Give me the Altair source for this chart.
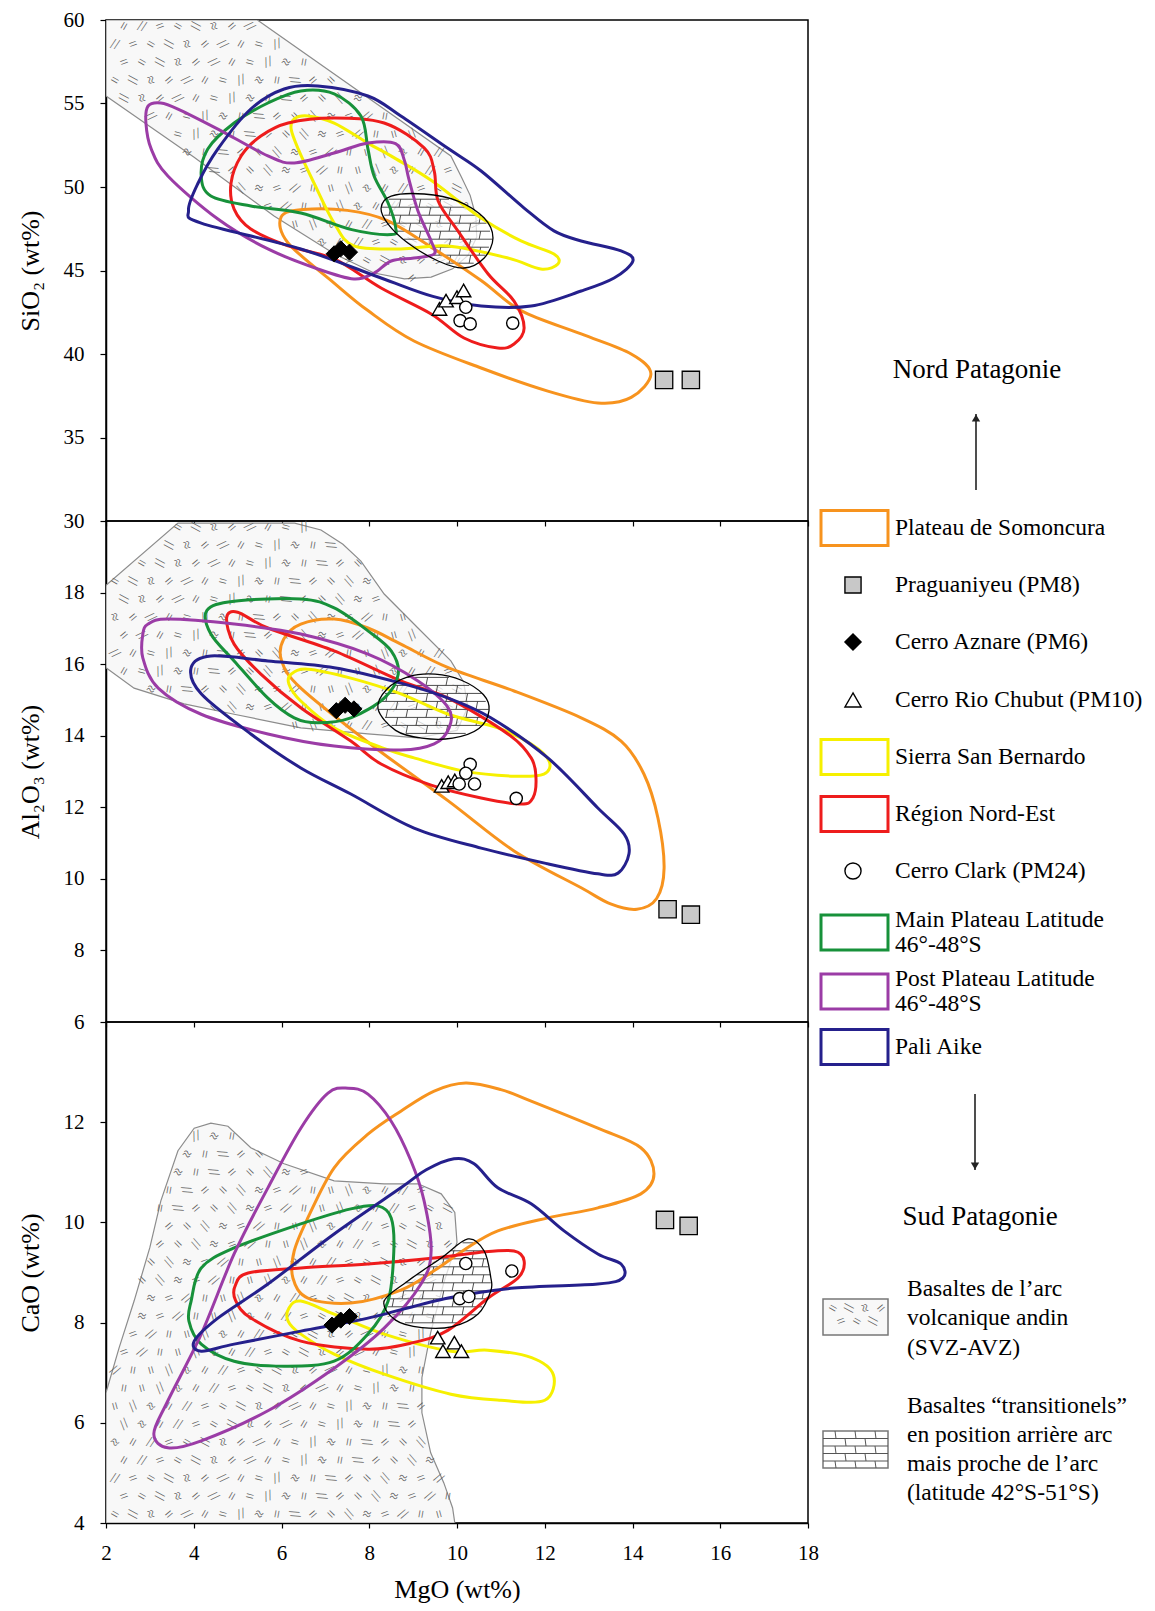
import altair as alt
import pandas as pd
import numpy as np

FONT = "Liberation Serif"

# ---------------- axis ticks ----------------
MGO_TICKS = [2, 4, 6, 8, 10, 12, 14, 16, 18]
SIO2_TICKS = [30, 35, 40, 45, 50, 55, 60]
AL2O3_TICKS = [6, 8, 10, 12, 14, 16, 18]
CAO_TICKS = [4, 6, 8, 10, 12]

GROUPS = ["Plateau de Somoncura", "Sierra San Bernardo", "Région Nord-Est",
          "Main Plateau", "Post Plateau", "Pali Aike"]
GROUP_COLORS = ["#f7931e", "#f6f000", "#ee1c1c", "#17913a", "#9b3ca6", "#25208c"]

# ---------------- SiO2 vs MgO ----------------
SIO2_SVZ = [(2, 60), (2, 55.45), (4.0, 51.8), (5.83, 48.26), (7.2, 46.0), (8.11, 44.85),
            (8.8, 44.5), (9.41, 44.6), (9.9, 45.1), (10.25, 45.9), (10.45, 47.0),
            (10.43, 48.26), (10.3, 49.5), (10.1, 50.6), (9.86, 51.86), (5.45, 60)]
SIO2_TRANS = [(8.27, 48.74), (8.5, 49.46), (9.25, 49.58), (10.02, 49.16), (10.62, 48.14),
              (10.82, 46.95), (10.62, 45.75), (10.16, 45.15), (9.57, 45.57), (8.88, 46.65),
              (8.43, 47.78)]
SIO2_SOMONCURA = [(5.99, 48.2), (6.5, 48.65), (7.5, 48.6), (8.4, 48.0), (9.41, 46.4),
                  (10.55, 44.4), (11.46, 42.6), (12.83, 41.2), (13.97, 40.0), (14.42, 38.8),
                  (13.97, 37.4), (13.21, 37.07), (12.07, 37.78), (10.55, 39.16), (9.02, 40.78),
                  (7.97, 42.6), (7.2, 44.25), (6.15, 46.65)]
SIO2_SIERRA = [(6.29, 54.07), (6.6, 54.25), (7.2, 53.83), (7.97, 52.63), (8.6, 51.7),
               (9.41, 50.4), (10.55, 48.14), (11.46, 46.77), (12.21, 45.99), (12.3, 45.39),
               (11.91, 45.09), (11.16, 45.75), (9.79, 46.47), (8.72, 46.29), (7.65, 46.47),
               (7.2, 47.84), (6.74, 50.24), (6.38, 52.28), (6.22, 53.47)]
SIO2_NORDEST = [(5.53, 53.05), (6.15, 53.83), (7.2, 54.13), (8.34, 53.83), (9.25, 52.34),
                (9.48, 50.96), (9.57, 49.16), (10.02, 47.37), (10.71, 44.79), (11.3, 43.17),
                (11.53, 41.56), (11.3, 40.6), (10.93, 40.36), (10.16, 40.96), (9.41, 42.4),
                (8.27, 43.95), (7.2, 45.69), (6.15, 46.47), (5.3, 47.49), (4.92, 48.68),
                (4.85, 50.24), (5.08, 51.86)]
SIO2_MAIN = [(5.69, 55.03), (6.44, 55.75), (7.2, 55.57), (7.81, 54.25), (7.97, 52.28),
             (8.11, 50.66), (8.43, 49.04), (8.6, 47.6), (8.5, 47.15), (7.6, 47.45),
             (6.44, 48.44), (5.3, 48.86), (4.39, 49.46), (4.17, 50.66), (4.32, 52.28),
             (4.92, 53.83)]
SIO2_POST = [(2.96, 54.85), (3.25, 55.03), (3.64, 54.67), (4.55, 53.47), (5.69, 51.86),
             (6.29, 51.44), (7.2, 52.04), (7.97, 52.63), (8.6, 52.6), (8.8, 51.6),
             (8.9, 50.5), (9.11, 48.56), (9.41, 46.77), (9.48, 45.99), (9.02, 45.75),
             (8.5, 45.57), (8.11, 44.85), (7.65, 44.49), (6.83, 45.09), (5.69, 46.29),
             (4.55, 48.08), (3.41, 50.66), (3.03, 52.28), (2.91, 53.83)]
SIO2_PALI = [(6.06, 55.87), (6.83, 56.05), (7.97, 55.45), (8.72, 54.25), (9.8, 52.3),
             (10.55, 50.96), (11.53, 48.74), (12.21, 47.37), (12.83, 46.77), (13.74, 46.17),
             (14.01, 45.57), (13.58, 44.55), (12.83, 43.77), (11.69, 42.87), (10.55, 42.87),
             (9.45, 43.45), (8.27, 44.55), (6.44, 46.29), (4.17, 47.84), (3.88, 48.6),
             (4.1, 50.24), (4.55, 52.28), (5.3, 54.67)]
SIO2_PM8 = [(14.72, 38.45), (15.33, 38.45)]
SIO2_PM6 = [(7.2, 46.0), (7.35, 46.3), (7.55, 46.1)]
SIO2_PM10 = [(9.6, 42.7), (9.75, 43.2), (10.0, 43.4), (10.15, 43.8)]
SIO2_PM24 = [(10.2, 42.8), (10.07, 42.0), (10.3, 41.8), (11.27, 41.85)]

# ---------------- Al2O3 vs MgO ----------------
AL_SVZ = [(2, 18.2), (3.64, 19.94), (6.3, 19.94), (6.9, 19.75), (7.4, 19.35), (7.81, 18.88),
          (8.34, 17.96), (9.11, 17.01), (9.86, 16.09), (10.15, 15.5), (10.25, 14.8),
          (10.0, 14.15), (9.11, 13.94), (7.97, 14.05), (6.44, 14.22), (4.92, 14.6),
          (3.78, 14.89), (2.64, 15.33), (2, 15.9)]
AL_TRANS = [(8.2, 14.75), (8.4, 15.3), (8.9, 15.65), (9.5, 15.72), (10.1, 15.55),
            (10.6, 15.15), (10.73, 14.7), (10.5, 14.2), (9.9, 13.93), (9.2, 13.93),
            (8.6, 14.15)]
AL_SOMONCURA = [(6.0, 16.1), (6.05, 16.7), (6.44, 17.12), (7.2, 17.26), (7.97, 17.01),
                (8.72, 16.56), (9.8, 15.9), (11.3, 15.25), (12.83, 14.5), (13.74, 13.85),
                (14.26, 12.93), (14.58, 11.7), (14.72, 10.3), (14.55, 9.45), (14.1, 9.15),
                (13.5, 9.3), (12.83, 9.75), (11.3, 10.78), (9.8, 12.18), (8.1, 13.7),
                (6.44, 15.33)]
AL_SIERRA = [(6.17, 15.44), (6.22, 15.72), (6.6, 15.86), (7.58, 15.61), (8.72, 15.17),
             (9.8, 14.6), (10.93, 14.22), (11.69, 13.77), (12.1, 13.29), (11.98, 12.93),
             (11.3, 12.87), (10.16, 13.01), (9.02, 13.38), (8.3, 13.66), (7.2, 14.22),
             (6.44, 14.97)]
AL_NORDEST = [(4.75, 17.3), (5.0, 17.45), (5.69, 17.01), (7.2, 16.37), (8.72, 15.53),
              (9.8, 15.05), (11.16, 14.05), (11.69, 13.38), (11.8, 12.82), (11.73, 12.26),
              (11.46, 12.09), (10.55, 12.26), (9.41, 12.62), (8.27, 13.21), (7.58, 13.85),
              (6.44, 14.78), (5.53, 15.72), (4.92, 16.56)]
AL_MAIN = [(4.3, 17.5), (4.92, 17.76), (6.44, 17.82), (7.2, 17.57), (7.97, 16.93),
           (8.5, 16.37), (8.66, 15.72), (8.34, 15.05), (7.58, 14.5), (6.83, 14.36),
           (6.29, 14.5), (5.69, 15.05), (4.92, 16.09), (4.39, 16.84)]
AL_POST = [(2.96, 17.12), (3.41, 17.26), (4.92, 17.12), (6.44, 16.84), (7.97, 16.28),
           (9.11, 15.53), (9.8, 14.78), (9.82, 14.22), (9.48, 13.77), (8.72, 13.6),
           (7.2, 13.71), (5.69, 14.05), (4.17, 14.6), (3.19, 15.33), (2.84, 16.17),
           (2.84, 16.84)]
AL_PALI = [(3.94, 15.9), (4.39, 16.23), (5.69, 16.09), (7.2, 15.9), (8.72, 15.47),
           (9.8, 15.05), (10.77, 14.5), (12.07, 13.38), (13.21, 11.98), (13.81, 11.25),
           (13.92, 10.7), (13.67, 10.16), (13.21, 10.14), (12.07, 10.42), (10.55, 10.86),
           (9.02, 11.42), (7.58, 12.37), (6.44, 13.1), (5.3, 14.05), (4.17, 15.17)]
AL_PM8 = [(14.8, 9.15), (15.33, 9.0)]
AL_PM6 = [(7.25, 14.7), (7.45, 14.85), (7.65, 14.75)]
AL_PM10 = [(9.65, 12.6), (9.8, 12.7), (9.95, 12.75)]
AL_PM24 = [(10.3, 13.2), (10.2, 12.95), (10.05, 12.65), (10.4, 12.65), (11.35, 12.25)]

# ---------------- CaO vs MgO ----------------
CAO_SVZ = [(2, 4.0), (2, 6.6), (2.3, 7.5), (2.64, 8.43), (3.0, 9.5), (3.25, 10.43),
           (3.64, 11.43), (4.01, 11.88), (4.39, 11.98), (4.78, 11.92), (5.3, 11.49),
           (6.06, 11.17), (7.2, 10.83), (8.34, 10.77), (9.11, 10.77), (9.64, 10.57),
           (9.95, 10.2), (10.0, 9.6), (9.7, 8.8), (9.4, 7.8), (9.2, 6.9), (9.2, 6.2),
           (9.4, 5.4), (9.7, 4.8), (9.9, 4.3), (9.95, 4.0)]
CAO_TRANS = [(10.25, 9.67), (10.62, 9.43), (10.77, 8.9), (10.77, 8.63), (10.48, 8.17),
             (9.9, 7.92), (9.2, 7.9), (8.6, 8.05), (8.34, 8.43), (8.88, 8.83), (9.64, 9.29)]
CAO_SOMONCURA = [(6.26, 8.89), (6.29, 9.43), (6.6, 10.09), (7.2, 11.09), (7.97, 11.76),
                 (8.72, 12.22), (9.48, 12.62), (10.2, 12.78), (11.0, 12.65), (11.69, 12.42),
                 (13.21, 11.88), (14.19, 11.49), (14.49, 10.97), (14.19, 10.57), (13.21, 10.29),
                 (12.07, 10.09), (10.93, 9.83), (10.16, 9.45), (9.5, 9.05), (8.72, 8.65),
                 (7.58, 8.39), (6.6, 8.49)]
CAO_SIERRA = [(6.17, 8.29), (6.44, 8.43), (7.2, 8.17), (8.34, 7.77), (9.86, 7.43),
              (10.7, 7.45), (11.7, 7.3), (12.2, 6.95), (12.0, 6.45), (11.0, 6.45),
              (9.86, 6.57), (8.34, 6.97), (7.2, 7.37), (6.44, 7.77), (6.15, 8.03)]
CAO_NORDEST = [(4.95, 8.75), (5.24, 8.99), (6.44, 9.09), (7.97, 9.17), (9.48, 9.29),
               (10.5, 9.4), (11.3, 9.43), (11.53, 9.23), (11.39, 8.89), (10.71, 8.49),
               (9.8, 7.85), (9.0, 7.6), (7.97, 7.47), (6.44, 7.63), (5.3, 8.09), (4.95, 8.45)]
CAO_MAIN = [(3.94, 8.43), (4.17, 9.09), (4.92, 9.49), (6.44, 9.97), (7.58, 10.27),
            (8.2, 10.33), (8.5, 10.09), (8.56, 9.43), (8.43, 8.43), (7.97, 7.77),
            (7.2, 7.23), (6.06, 7.13), (4.92, 7.23), (4.17, 7.57), (3.89, 8.03)]
CAO_POST = [(7.06, 12.58), (7.52, 12.68), (7.97, 12.56), (8.5, 12.02), (8.95, 11.23),
            (9.25, 10.43), (9.41, 9.43), (9.18, 8.77), (8.34, 7.89), (7.2, 7.09),
            (5.69, 6.24), (4.17, 5.64), (3.41, 5.5), (3.09, 5.78), (3.41, 6.44),
            (4.17, 7.77), (4.92, 9.37), (5.69, 10.69), (6.44, 11.88)]
CAO_PALI = [(4.01, 7.63), (4.55, 8.09), (5.69, 8.77), (7.2, 9.77), (8.72, 10.69),
            (9.3, 11.05), (9.93, 11.27), (10.39, 11.17), (10.93, 10.69), (11.69, 10.37),
            (12.44, 9.83), (13.21, 9.37), (13.74, 9.17), (13.78, 8.89), (13.21, 8.77),
            (11.3, 8.69), (9.8, 8.49), (7.97, 8.09), (6.44, 7.83), (4.92, 7.57), (4.17, 7.43)]
CAO_PM8 = [(14.74, 10.05), (15.28, 9.93)]
CAO_PM6 = [(7.15, 7.95), (7.35, 8.05), (7.55, 8.12)]
CAO_PM10 = [(9.56, 7.7), (9.68, 7.43), (9.94, 7.6), (10.1, 7.43)]
CAO_PM24 = [(10.2, 9.18), (11.25, 9.03), (10.06, 8.48), (10.27, 8.52)]

# ---------------- legend text ----------------
LEGEND_LABELS = ["Plateau de Somoncura", "Praguaniyeu (PM8)", "Cerro Aznare (PM6)",
                 "Cerro Rio Chubut (PM10)", "Sierra San Bernardo", "Région Nord-Est",
                 "Cerro Clark (PM24)", "Main Plateau Latitude\n46°-48°S",
                 "Post Plateau Latitude\n46°-48°S", "Pali Aike"]
LEGEND_KIND = ["box", "square", "diamond", "triangle-up", "box", "box", "circle",
               "box", "box", "box"]
LEGEND_COLOR = ["#f7931e", "#c8c8c8", "black", "white", "#f6f000", "#ee1c1c", "white",
                "#17913a", "#9b3ca6", "#25208c"]
NORD = "Nord Patagonie"
SUD = "Sud Patagonie"
SVZ_TEXT = "Basaltes de l’arc\nvolcanique andin\n(SVZ-AVZ)"
TRANS_TEXT = "Basaltes “transitionels”\nen position arrière arc\nmais proche de l’arc\n(latitude 42°S-51°S)"
GLYPH_CHARS = ["=", "//", "≈", "=", "//", "="]

# ---------------- layout ----------------
PW, PH = 702, 501
LW = 320
LEG_ROW_Y = [508, 565, 622, 680, 737, 794, 851, 912.5, 971.5, 1027]

ANGLES = [30, 120, 75, 160, 45, 100, 15, 140]


def inside(px, py, poly):
    c = False
    n = len(poly)
    j = n - 1
    for i in range(n):
        xi, yi = poly[i]
        xj, yj = poly[j]
        if (yi > py) != (yj > py):
            xc = (xj - xi) * (py - yi) / (yj - yi) + xi
            if px < xc:
                c = not c
        j = i
    return c


def glyphs(poly, ymin, ymax, step=18.0):
    sx = step * 16.0 / PW
    sy = step * (ymax - ymin) / PH
    rows = []
    r = 0
    yv = ymin + sy / 2
    while yv < ymax:
        off = (r % 2) * sx / 2
        c = 0
        xv = 2 + sx / 2 + off
        while xv < 18:
            if inside(xv, yv, poly):
                rows.append({"x": xv, "y": yv, "a": ANGLES[(r * 3 + c * 5) % 8],
                             "t": GLYPH_CHARS[(r * 5 + c * 7) % len(GLYPH_CHARS)]})
            xv += sx
            c += 1
        yv += sy
        r += 1
    return pd.DataFrame(rows)


def hatch(poly, ymin, ymax, ystep_px=8.0, xstep_px=20.0):
    sy = ystep_px * (ymax - ymin) / PH
    sx = xstep_px * 16.0 / PW
    ys = [p[1] for p in poly]
    xs = [p[0] for p in poly]
    levels = np.arange(min(ys) + sy * 0.6, max(ys), sy)
    segs = []
    n = len(poly)
    for lv in levels:
        cuts = []
        for i in range(n):
            x1, y1 = poly[i]
            x2, y2 = poly[(i + 1) % n]
            if (y1 > lv) != (y2 > lv):
                cuts.append(x1 + (lv - y1) * (x2 - x1) / (y2 - y1))
        cuts.sort()
        for k in range(0, len(cuts) - 1, 2):
            segs.append({"x": cuts[k], "x2": cuts[k + 1], "y": lv, "y2": lv})
    for k in range(len(levels) - 1):
        ya, yb = levels[k], levels[k + 1]
        off = (k % 2) * sx / 2
        xv = min(xs) + sx * 0.4 + off
        while xv < max(xs):
            if inside(xv, ya + 1e-6, poly) and inside(xv, yb - 1e-6, poly):
                segs.append({"x": xv, "x2": xv + sx * 0.08, "y": ya, "y2": yb})
            xv += sx
    return pd.DataFrame(segs)


def poly_df(pts, group=None):
    d = pd.DataFrame(pts, columns=["x", "y"])
    d["i"] = range(len(d))
    if group is not None:
        d["g"] = group
    return d


def panel(ymin, ymax, yticks, ytitle, svz, trans, shapes, pm8, pm6, pm10, pm24, bottom):
    if bottom:
        xaxis = alt.Axis(values=MGO_TICKS, title="MgO (wt%)", labelFontSize=21,
                         titleFontSize=26, titlePadding=13, tickSize=5, labelPadding=14,
                         labelFlush=False, grid=False, labelAngle=0)
    else:
        xaxis = alt.Axis(values=MGO_TICKS, labels=False, ticks=True, tickSize=5,
                         domain=False, grid=False, title=None)
    X = alt.X("x:Q", scale=alt.Scale(domain=[2, 18], nice=False, zero=False), axis=xaxis)
    Y = alt.Y("y:Q", scale=alt.Scale(domain=[ymin, ymax], nice=False, zero=False),
              axis=alt.Axis(values=yticks, title=ytitle, tickSize=6, labelPadding=16,
                            labelFontSize=21, titleFontSize=26, titlePadding=20, grid=False))

    svz_layer = alt.Chart(poly_df(svz)).mark_line(
        interpolate="linear-closed", fill="#f8f8f8", stroke="#8c8c8c", strokeWidth=1.2,
        clip=True).encode(x=X, y=Y, order="i:Q")
    glyph_layer = alt.Chart(glyphs(svz, ymin, ymax)).mark_text(
        fontSize=15, color="#5e5e5e", font=FONT).encode(
        x=X, y=Y, text="t:N", angle=alt.Angle("a:Q", scale=None))
    trans_fill = alt.Chart(poly_df(trans)).mark_line(
        interpolate="cardinal-closed", fill="#ffffff", fillOpacity=0.7,
        stroke="transparent").encode(x=X, y=Y, order="i:Q")
    hatch_layer = alt.Chart(hatch(trans, ymin, ymax)).mark_rule(
        color="#3a3a3a", strokeWidth=0.9).encode(x=X, y=Y, x2="x2:Q", y2="y2:Q")
    frames = [poly_df(pts, g) for g, pts in zip(GROUPS, shapes)]
    lines_layer = alt.Chart(pd.concat(frames, ignore_index=True)).mark_line(
        interpolate="cardinal-closed", strokeWidth=3).encode(
        x=X, y=Y, order="i:Q",
        color=alt.Color("g:N", scale=alt.Scale(domain=GROUPS, range=GROUP_COLORS), legend=None))
    trans_line = alt.Chart(poly_df(trans)).mark_line(
        interpolate="cardinal-closed", color="black", strokeWidth=1.3).encode(
        x=X, y=Y, order="i:Q")
    sq = alt.Chart(pd.DataFrame(pm8, columns=["x", "y"])).mark_point(
        shape="square", size=300, filled=True, fill="#c8c8c8", stroke="black",
        strokeWidth=1.3, opacity=1).encode(x=X, y=Y)
    dm = alt.Chart(pd.DataFrame(pm6, columns=["x", "y"])).mark_point(
        shape="diamond", size=260, filled=True, fill="black", stroke="black",
        strokeWidth=1, opacity=1).encode(x=X, y=Y)
    tr = alt.Chart(pd.DataFrame(pm10, columns=["x", "y"])).mark_point(
        shape="triangle-up", size=210, filled=True, fill="white", stroke="black",
        strokeWidth=1.4, opacity=1).encode(x=X, y=Y)
    ci = alt.Chart(pd.DataFrame(pm24, columns=["x", "y"])).mark_point(
        shape="circle", size=150, filled=True, fill="white", stroke="black",
        strokeWidth=1.4, opacity=1).encode(x=X, y=Y)
    return alt.layer(svz_layer, glyph_layer, trans_fill, hatch_layer, lines_layer,
                     trans_line, sq, dm, tr, ci).properties(width=PW, height=PH)


p1 = panel(30, 60, SIO2_TICKS, "SiO₂ (wt%)", SIO2_SVZ, SIO2_TRANS,
           [SIO2_SOMONCURA, SIO2_SIERRA, SIO2_NORDEST, SIO2_MAIN, SIO2_POST, SIO2_PALI],
           SIO2_PM8, SIO2_PM6, SIO2_PM10, SIO2_PM24, False)
p2 = panel(6, 20, AL2O3_TICKS, "Al₂O₃ (wt%)", AL_SVZ, AL_TRANS,
           [AL_SOMONCURA, AL_SIERRA, AL_NORDEST, AL_MAIN, AL_POST, AL_PALI],
           AL_PM8, AL_PM6, AL_PM10, AL_PM24, False)
p3 = panel(4, 14, CAO_TICKS, "CaO (wt%)", CAO_SVZ, CAO_TRANS,
           [CAO_SOMONCURA, CAO_SIERRA, CAO_NORDEST, CAO_MAIN, CAO_POST, CAO_PALI],
           CAO_PM8, CAO_PM6, CAO_PM10, CAO_PM24, True)

# ---------------- legend (drawn from the top-right cell, pixel coordinates) ----------------
LX = alt.X("x:Q", scale=alt.Scale(domain=[0, LW], nice=False, zero=False), axis=None)
LY = alt.Y("y:Q", scale=alt.Scale(domain=[0, PH], nice=False, zero=False, reverse=True),
           axis=None)

BOX_X0, BOX_X1, BOX_H = 13, 80, 35
MARK_X, TEXT_X = 45, 87
LFS = 23.5


def split_lines(label, xc, yc, lh):
    parts = label.split("\n")
    n = len(parts)
    return [{"label": p, "x": xc, "y": yc + (k - (n - 1) / 2) * lh} for k, p in enumerate(parts)]


rows = []
for lab, kind, col, yv in zip(LEGEND_LABELS, LEGEND_KIND, LEGEND_COLOR, LEG_ROW_Y):
    rows.append({"label": lab, "kind": kind, "color": col, "y": yv})
leg = pd.DataFrame(rows)
boxes = leg[leg.kind == "box"].copy()
boxes["x"] = BOX_X0
boxes["x2"] = BOX_X1
boxes["y2"] = boxes["y"] + BOX_H / 2
boxes["y"] = boxes["y"] - BOX_H / 2
marks = leg[leg.kind != "box"].copy()
marks["x"] = MARK_X
line_rows = []
for lab, yv in zip(LEGEND_LABELS, LEG_ROW_Y):
    line_rows += split_lines(lab, TEXT_X, yv, 25)
line_rows += split_lines(SVZ_TEXT, 99, 1298, 29.5)
line_rows += split_lines(TRANS_TEXT, 99, 1429.5, 29)
texts = pd.DataFrame(line_rows)

box_layer = alt.Chart(boxes).mark_rect(fill="white", strokeWidth=3).encode(
    x=LX, x2="x2:Q", y=LY, y2="y2:Q", stroke=alt.Stroke("color:N", scale=None))
mark_layer = alt.Chart(marks).mark_point(size=260, filled=True, stroke="black",
                                         strokeWidth=1.4, opacity=1).encode(
    x=LX, y=LY, shape=alt.Shape("kind:N", scale=None), fill=alt.Fill("color:N", scale=None))
text_layer = alt.Chart(texts).mark_text(align="left", baseline="middle", font=FONT,
                                        fontSize=LFS, color="black").encode(
    x=LX, y=LY, text="label:N")

heads = pd.DataFrame({"label": [NORD, SUD], "x": [169, 172], "y": [350, 1197]})
head_layer = alt.Chart(heads).mark_text(align="center", baseline="middle", font=FONT,
                                        fontSize=27, color="black").encode(
    x=LX, y=LY, text="label:N")
arrows = pd.DataFrame({"x": [168, 167], "y": [470, 1074], "y2": [394, 1150]})
arrow_rule = alt.Chart(arrows).mark_rule(color="#222", strokeWidth=1.6).encode(
    x=LX, y=LY, y2="y2:Q")
tips = pd.DataFrame({"x": [168, 167], "y": [398, 1146], "kind": ["triangle-up", "triangle-down"]})
tip_layer = alt.Chart(tips).mark_point(size=70, filled=True, color="#222", opacity=1).encode(
    x=LX, y=LY, shape=alt.Shape("kind:N", scale=None))

SVZ_BOX = (15, 80, 1279, 1315)
TR_BOX = (15, 80, 1411, 1448)
pbox = pd.DataFrame({"x": [SVZ_BOX[0], TR_BOX[0]], "x2": [SVZ_BOX[1], TR_BOX[1]],
                     "y": [SVZ_BOX[2], TR_BOX[2]], "y2": [SVZ_BOX[3], TR_BOX[3]],
                     "f": ["#f8f8f8", "#ffffff"]})
pbox_layer = alt.Chart(pbox).mark_rect(stroke="#777", strokeWidth=1.5).encode(
    x=LX, x2="x2:Q", y=LY, y2="y2:Q", fill=alt.Fill("f:N", scale=None))
g_rows = []
for r, yy in enumerate(np.arange(SVZ_BOX[2] + 9, SVZ_BOX[3] - 4, 13)):
    for c, xx in enumerate(np.arange(SVZ_BOX[0] + 10 + (r % 2) * 8, SVZ_BOX[1] - 5, 16)):
        g_rows.append({"x": xx, "y": yy, "a": ANGLES[(r * 3 + c * 5) % 8],
                       "t": GLYPH_CHARS[(r * 5 + c * 7) % len(GLYPH_CHARS)]})
lg_glyph = alt.Chart(pd.DataFrame(g_rows)).mark_text(fontSize=15, color="#5e5e5e",
                                                      font=FONT).encode(
    x=LX, y=LY, text="t:N", angle=alt.Angle("a:Q", scale=None))
h_rows = []
hy = list(np.arange(TR_BOX[2] + 7.5, TR_BOX[3] - 2, 7.5))
for yy in hy:
    h_rows.append({"x": TR_BOX[0], "x2": TR_BOX[1], "y": yy, "y2": yy})
bounds_y = [TR_BOX[2]] + hy + [TR_BOX[3]]
for k in range(len(bounds_y) - 1):
    off = (k % 2) * 10
    for xx in np.arange(TR_BOX[0] + 12 + off, TR_BOX[1] - 3, 20):
        h_rows.append({"x": xx, "x2": xx + 1, "y": bounds_y[k], "y2": bounds_y[k + 1]})
lg_hatch = alt.Chart(pd.DataFrame(h_rows)).mark_rule(color="#555", strokeWidth=1).encode(
    x=LX, x2="x2:Q", y=LY, y2="y2:Q")

legend = alt.layer(box_layer, mark_layer, text_layer, head_layer, arrow_rule, tip_layer,
                   pbox_layer, lg_glyph, lg_hatch).properties(
    width=LW, height=PH, view=alt.ViewBackground(stroke="transparent"))


def empty_cell():
    return alt.Chart(pd.DataFrame({"x": [0], "y": [0]})).mark_point(opacity=0, size=1).encode(
        x=LX, y=LY).properties(width=LW, height=PH,
                               view=alt.ViewBackground(stroke="transparent"))


chart = alt.concat(p1, legend, p2, empty_cell(), p3, empty_cell(), columns=2, spacing=0,
                   bounds="flush").configure_view(
    stroke="black", strokeWidth=1.5).configure_axis(
    labelFont=FONT, titleFont=FONT, labelColor="black", titleColor="black",
    titleFontWeight="normal", domainColor="black", tickColor="black",
    domainWidth=1.5, tickWidth=1.2).properties(
    padding={"left": 8, "top": 0, "right": 0, "bottom": 0})

chart.save("out.html", embed_options={"renderer": "svg", "actions": False})
